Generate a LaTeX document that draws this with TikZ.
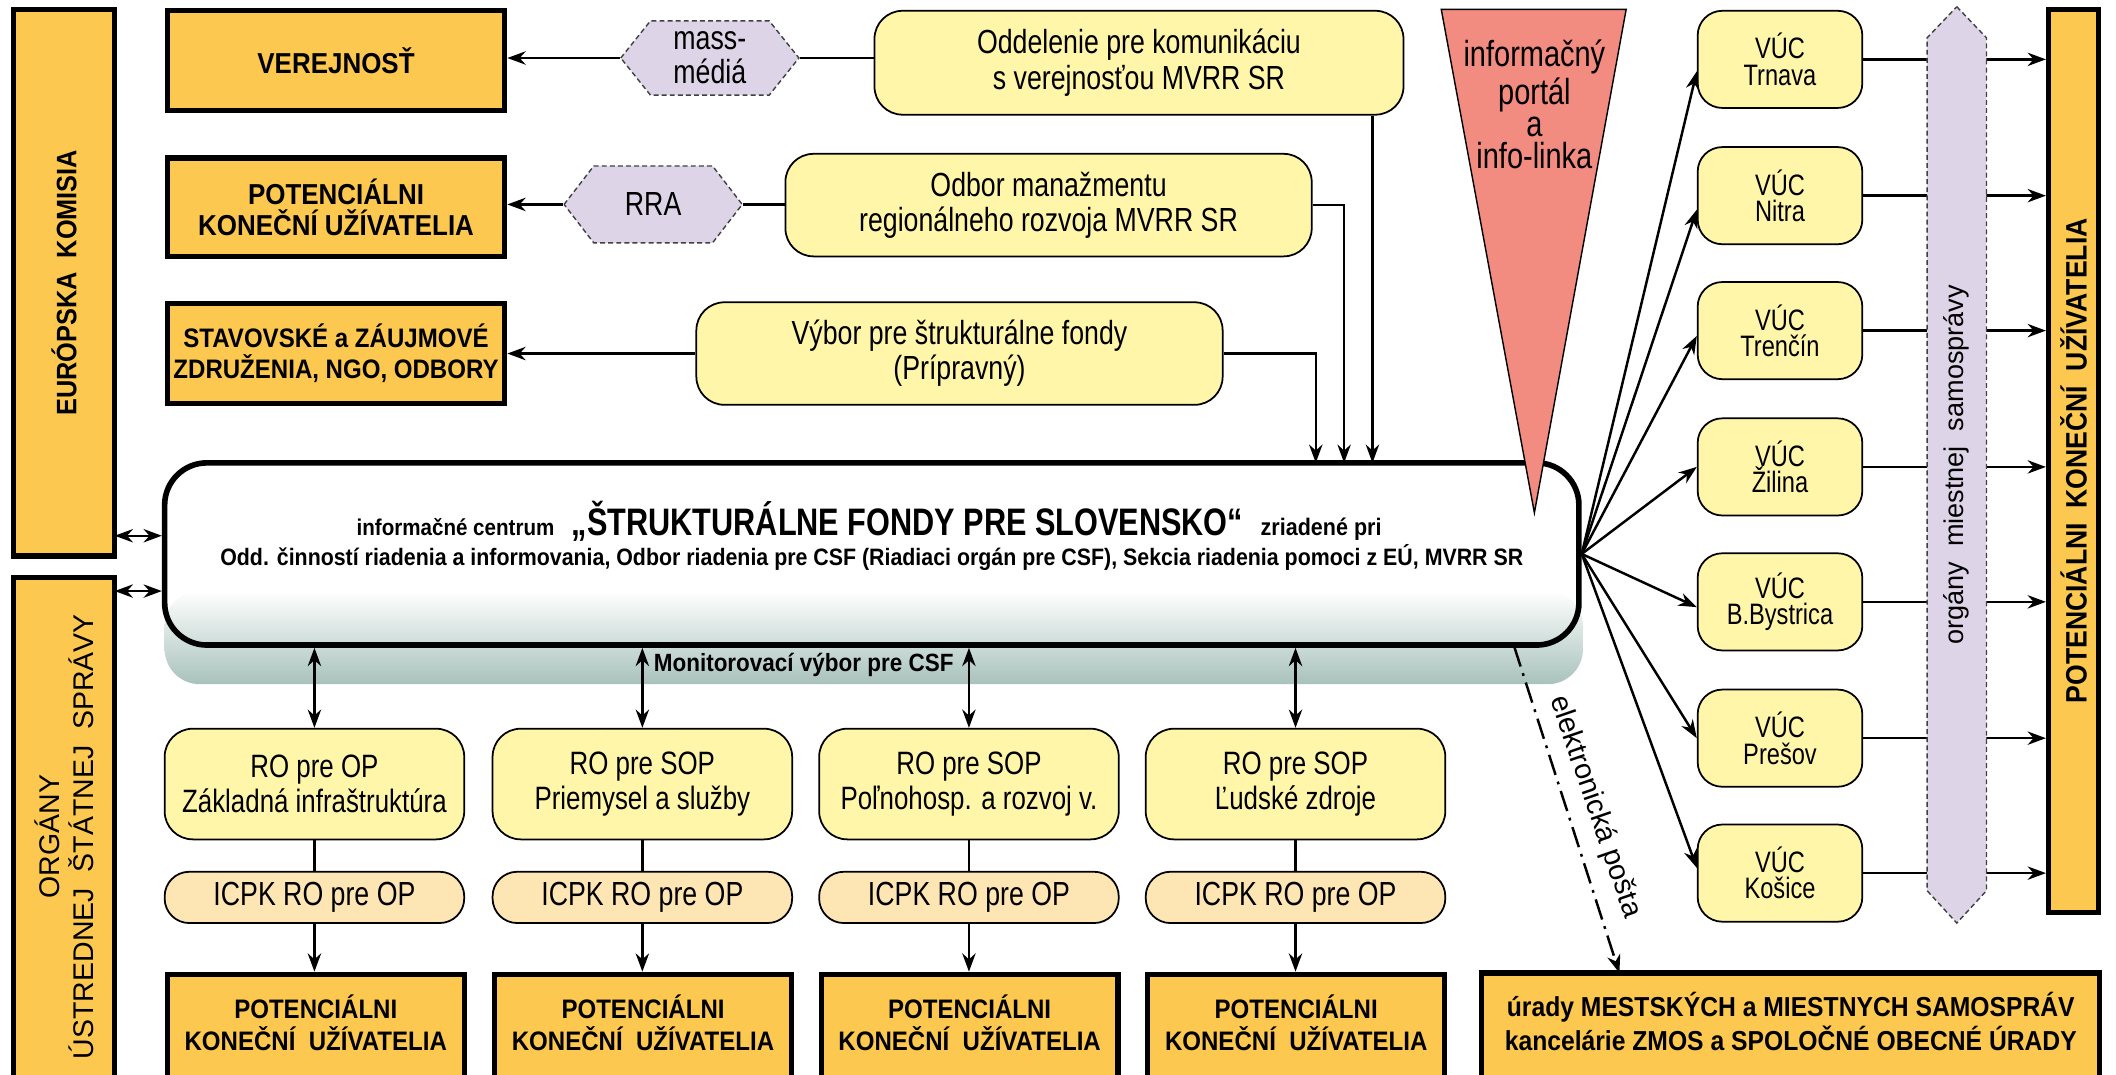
\documentclass[tikz,border=0pt]{standalone}
\usepackage{fontspec}
\setmainfont{Liberation Sans}
\newfontfamily\narrowfont[FakeStretch=0.8]{Liberation Sans}
\newfontfamily\narrowbold[FakeStretch=0.9]{Liberation Sans}
\usetikzlibrary{arrows.meta}
\newcommand{\px}{0.013495cm}
\definecolor{orangef}{RGB}{253,200,79}
\definecolor{yellowf}{RGB}{255,246,170}
\definecolor{icpkf}{RGB}{253,229,180}
\definecolor{lavf}{RGB}{222,212,231}
\definecolor{portalf}{RGB}{242,139,128}
\definecolor{bandcol}{RGB}{168,194,187}
\tikzset{
  conn/.style={line width=0.7pt},
  orangebox/.style={draw, line width=1.5pt, fill=orangef, inner sep=0pt, align=center,
    font=\narrowbold\bfseries\fontsize{8.2pt}{8.9pt}\selectfont},
  sidebox/.style={orangebox, rotate=90},
  pkbox/.style={orangebox, minimum width=220*\px, minimum height=90*\px},
  pktext/.style={align=center, font=\narrowbold\bfseries\fontsize{7.6pt}{9.2pt}\selectfont},
  yellowbox/.style={draw, line width=0.5pt, fill=yellowf, rounded corners=8pt, inner sep=0pt,
    align=center, font=\narrowfont\fontsize{9.5pt}{10pt}\selectfont},
  robox/.style={yellowbox, minimum width=222*\px, minimum height=82*\px,
    font=\narrowfont\fontsize{9.2pt}{10pt}\selectfont},
  icpkbox/.style={yellowbox, fill=icpkf, rounded corners=7pt, minimum width=222*\px,
    minimum height=38*\px},
  vucbox/.style={yellowbox, rounded corners=7pt, minimum width=122*\px, minimum height=72*\px,
    font=\narrowfont\fontsize{8.4pt}{7.5pt}\selectfont},
  hexline/.style={draw=black!75, line width=0.4pt, dash pattern=on 1.4pt off 0.9pt, fill=lavf},
  hextext/.style={inner sep=0pt, align=center, font=\narrowfont\fontsize{9.5pt}{9.6pt}\selectfont},
}
\begin{document}
\begin{tikzpicture}[x=\px, y=-\px, >={Stealth[length=5.2pt,width=3.8pt]}]
\useasboundingbox (0,0) rectangle (1568,796);

% left column
\node (ek) at (47.5,209.5) [sidebox, minimum width=405*\px, minimum height=75*\px,
  font=\narrowbold\bfseries\fontsize{8pt}{9pt}\selectfont] {EURÓPSKA~~KOMISIA};
\node (org) at (47.5,620) [sidebox, minimum width=384*\px, minimum height=75*\px,
  font=\fontsize{8.1pt}{9.6pt}\selectfont] {ORGÁNY\\ÚSTREDNEJ~~ŠTÁTNEJ~~SPRÁVY};

% top rows
\node (verej) at (249,45) [orangebox, minimum width=250*\px, minimum height=74*\px] {VEREJNOSŤ};
\node (potL) at (249,153.5) [orangebox, minimum width=250*\px, minimum height=73*\px] {POTENCIÁLNI\\KONEČNÍ UŽÍVATELIA};
\node (stav) at (249,262) [orangebox, minimum width=250*\px, minimum height=74*\px,
  font=\narrowbold\bfseries\fontsize{7.6pt}{8.9pt}\selectfont] {STAVOVSKÉ a ZÁUJMOVÉ\\ZDRUŽENIA, NGO, ODBORY};

\draw [hexline] (460,43) -- (482,15.5) -- (570,15.5) -- (592,43) -- (570,70.5) -- (482,70.5) -- cycle;
\node (mass) at (526,43) [hextext, minimum width=132*\px, minimum height=55*\px] {mass-\\médiá};
\draw [hexline] (418,151.5) -- (440,123) -- (528,123) -- (550,151.5) -- (528,180) -- (440,180) -- cycle;
\node (rra) at (484,151.5) [hextext, minimum width=132*\px, minimum height=57*\px] {RRA};

\node (oddel) at (844,46.5) [yellowbox, minimum width=392*\px, minimum height=77*\px] {Oddelenie pre komunikáciu\\s verejnosťou MVRR SR};
\node (odbor) at (777,152) [yellowbox, minimum width=390*\px, minimum height=76*\px] {Odbor manažmentu\\regionálneho rozvoja MVRR SR};
\node (vybor) at (711,262) [yellowbox, minimum width=390*\px, minimum height=76*\px] {Výbor pre štrukturálne fondy\\(Prípravný)};

\draw [conn, ->] (mass.west) -- (mass.west -| verej.east);
\draw [conn] (mass.east) -- (mass.east -| oddel.west);
\draw [conn, ->] (rra.west) -- (rra.west -| potL.east);
\draw [conn] (rra.east) -- (rra.east -| odbor.west);
\draw [conn, ->] (vybor.west) -- (vybor.west -| stav.east);

% central box
\shade [top color=white, middle color=bandcol, bottom color=bandcol, rounded corners=10pt] (122,438) rectangle (1173,507);
\node (centr) at (646,410.5) [draw, line width=1.6pt, rounded corners=12pt,
  minimum width=1048*\px, minimum height=135*\px] {};
\node (infotop) at (644,386) [font=\bfseries] {{\narrowbold\fontsize{6.5pt}{8pt}\selectfont informačné centrum}\enspace
  {\narrowfont\fontsize{10.9pt}{12pt}\selectfont „ŠTRUKTURÁLNE FONDY PRE SLOVENSKO“}\enspace
  {\narrowbold\fontsize{6.8pt}{8pt}\selectfont zriadené pri}};
\node (infobot) at (646,413) [font=\narrowbold\bfseries\fontsize{6.75pt}{8pt}\selectfont]
  {Odd. činností riadenia a informovania, Odbor riadenia pre CSF (Riadiaci orgán pre CSF), Sekcia riadenia pomoci z EÚ, MVRR SR};
\node (monit) at (484,493) [anchor=west, inner sep=0pt,
  font=\narrowbold\bfseries\fontsize{7.1pt}{8pt}\selectfont] {Monitorovací výbor pre CSF};

\coordinate (inA) at (975,343);
\coordinate (inB) at (996,343);
\coordinate (inC) at (1017,343);
\draw [conn, ->] (vybor.east) -| (inA);
\draw [conn, ->] (odbor.east) -| (inB);
\draw [conn, ->] (inC |- oddel.south) -- (inC);

\coordinate (ekl) at (85,397);
\coordinate (orgl) at (85,438);
\draw [conn, <->] (ekl) -- (ekl -| centr.west);
\draw [conn, <->] (orgl) -- (orgl -| centr.west);

% portal
\draw [fill=portalf, line width=0.4pt] (1068,7) -- (1205,7) -- (1137,380) -- cycle;
\node (portal) at (1137,77.5) [align=center, font=\narrowfont\fontsize{10.3pt}{9.1pt}\selectfont] {informačný\\portál\\a\\info-linka};

% operational programmes
\node (ro1) at (233,581) [robox] {RO pre OP\\Základná infraštruktúra};
\node (ro2) at (476,581) [robox] {RO pre SOP\\Priemysel a služby};
\node (ro3) at (718,581) [robox] {RO pre SOP\\Poľnohosp. a rozvoj v.};
\node (ro4) at (960,581) [robox] {RO pre SOP\\Ľudské zdroje};

\node (icpk1) at (233,665) [icpkbox] {ICPK RO pre OP};
\node (icpk2) at (476,665) [icpkbox] {ICPK RO pre OP};
\node (icpk3) at (718,665) [icpkbox] {ICPK RO pre OP};
\node (icpk4) at (960,665) [icpkbox] {ICPK RO pre OP};

\node (pk1) at (234,767) [pkbox] {};
\node (pk2) at (476.5,767) [pkbox] {};
\node (pk3) at (718.5,767) [pkbox] {};
\node (pk4) at (960.5,767) [pkbox] {};
\node (pk1t) at (234,758) [pktext] {POTENCIÁLNI\\KONEČNÍ~~UŽÍVATELIA};
\node (pk2t) at (476.5,758) [pktext] {POTENCIÁLNI\\KONEČNÍ~~UŽÍVATELIA};
\node (pk3t) at (718.5,758) [pktext] {POTENCIÁLNI\\KONEČNÍ~~UŽÍVATELIA};
\node (pk4t) at (960.5,758) [pktext] {POTENCIÁLNI\\KONEČNÍ~~UŽÍVATELIA};

\draw [conn, <->] (ro1.north |- centr.south) -- (ro1.north);
\draw [conn, <->] (ro2.north |- centr.south) -- (ro2.north);
\draw [conn, <->] (ro3.north |- centr.south) -- (ro3.north);
\draw [conn, <->] (ro4.north |- centr.south) -- (ro4.north);
\draw [conn] (ro1) -- (icpk1);
\draw [conn] (ro2) -- (icpk2);
\draw [conn] (ro3) -- (icpk3);
\draw [conn] (ro4) -- (icpk4);
\draw [conn, ->] (icpk1.south) -- (icpk1.south |- pk1.north);
\draw [conn, ->] (icpk2.south) -- (icpk2.south |- pk2.north);
\draw [conn, ->] (icpk3.south) -- (icpk3.south |- pk3.north);
\draw [conn, ->] (icpk4.south) -- (icpk4.south |- pk4.north);

% self-government
\node (urady) at (1327,766.5) [orangebox, minimum width=458*\px, minimum height=91*\px] {};
\node (uradyt) at (1327,757) [pktext, font=\narrowbold\bfseries\fontsize{7.8pt}{9.5pt}\selectfont]
  {úrady MESTSKÝCH a MIESTNYCH SAMOSPRÁV\\kancelárie ZMOS a SPOLOČNÉ OBECNÉ ÚRADY};

\coordinate (mailA) at (1122,479);
\coordinate (mailB) at (1200,721);
\draw [conn, ->, dash pattern=on 6pt off 2pt on 0.8pt off 2pt] (mailA) -- (mailB);
\node (mailt) at (1182,598) [rotate=-71, inner sep=0.5pt, font=\fontsize{8.2pt}{9pt}\selectfont] {elektronická pošta};

\node (vuc1) at (1319,44) [vucbox] {VÚC\\Trnava};
\node (vuc2) at (1319,145) [vucbox] {VÚC\\Nitra};
\node (vuc3) at (1319,245) [vucbox] {VÚC\\Trenčín};
\node (vuc4) at (1319,346) [vucbox] {VÚC\\Žilina};
\node (vuc5) at (1319,446) [vucbox] {VÚC\\B.Bystrica};
\node (vuc6) at (1319,547) [vucbox] {VÚC\\Prešov};
\node (vuc7) at (1319,647) [vucbox] {VÚC\\Košice};

\node (potR) at (1536.5,341.5) [sidebox, minimum width=669*\px, minimum height=37*\px,
  font=\narrowbold\bfseries\fontsize{8.4pt}{9pt}\selectfont] {POTENCIÁLNI~~KONEČNÍ~~UŽÍVATELIA};

\draw [conn, ->] (centr.east) -- ([yshift=-3.4pt]vuc1.west);
\draw [conn, ->] (centr.east) -- ([yshift=-4pt]vuc2.west);
\draw [conn, ->] (centr.east) -- ([yshift=-1.5pt]vuc3.west);
\draw [conn, ->] (centr.east) -- (vuc4.west);
\draw [conn, ->] (centr.east) -- ([yshift=-1.5pt]vuc5.west);
\draw [conn, ->] (centr.east) -- (vuc6.west);
\draw [conn, ->] (centr.east) -- ([yshift=1.5pt]vuc7.west);

\draw [conn, ->] (vuc1.east) -- (vuc1.east -| potR.north);
\draw [conn, ->] (vuc2.east) -- (vuc2.east -| potR.north);
\draw [conn, ->] (vuc3.east) -- (vuc3.east -| potR.north);
\draw [conn, ->] (vuc4.east) -- (vuc4.east -| potR.north);
\draw [conn, ->] (vuc5.east) -- (vuc5.east -| potR.north);
\draw [conn, ->] (vuc6.east) -- (vuc6.east -| potR.north);
\draw [conn, ->] (vuc7.east) -- (vuc7.east -| potR.north);

% local self-government band
\draw [hexline] (1450,5) -- (1472,28) -- (1472,660) -- (1450,684) -- (1428,660) -- (1428,28) -- cycle;
\node (orgm) at (1450,344.5) [rotate=90, inner sep=0pt, font=\fontsize{7.7pt}{9pt}\selectfont] {orgány~~miestnej~~samosprávy};
\end{tikzpicture}
\end{document}
